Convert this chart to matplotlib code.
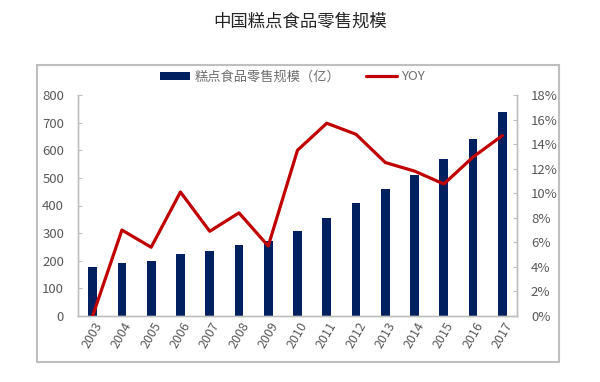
import matplotlib
matplotlib.use("Agg")
import matplotlib.pyplot as plt
from matplotlib.patches import Rectangle
from matplotlib.ticker import FuncFormatter

plt.rcParams['font.family'] = ['Noto Sans CJK SC', 'DejaVu Sans']

years = ["2003", "2004", "2005", "2006", "2007", "2008", "2009", "2010",
         "2011", "2012", "2013", "2014", "2015", "2016", "2017"]
sales = [176, 191, 200, 223, 235, 258, 270, 309, 355, 409, 461, 512, 570, 641, 738]
yoy = [0.0, 7.0, 5.6, 10.1, 6.9, 8.4, 5.7, 13.5, 15.7, 14.8, 12.5, 11.8, 10.75, 12.95, 14.7]

title = "中国糕点食品零售规模"
bar_label = "糕点食品零售规模（亿）"
line_label = "YOY"

grey_text = "#595959"
spine_c = "#BFBFBF"

fig = plt.figure(figsize=(6, 3.82), dpi=100)
fig.patch.set_facecolor("white")

# outer frame
fig.patches.append(Rectangle((37/600, 1-362/382), (559-37)/600, (362-65)/382,
                             transform=fig.transFigure, fill=False,
                             edgecolor="#BFBFBF", linewidth=1.5))

ax = fig.add_axes([78/600, 1-316/382, (517-78)/600, (316-95)/382])
ax2 = ax.twinx()

x = list(range(len(years)))
bars = ax.bar(x, sales, width=0.3, color="#002060", label=bar_label, zorder=2)
line, = ax2.plot(x, yoy, color="#C00000", linewidth=2.3, label=line_label,
                 solid_capstyle="round", zorder=3)

ax.set_xlim(-0.5, len(years) - 0.5)
ax.set_ylim(0, 800)
ax.set_yticks(range(0, 801, 100))
ax2.set_ylim(0, 18)
ax2.set_yticks(range(0, 19, 2))
ax2.yaxis.set_major_formatter(FuncFormatter(lambda v, p: f"{int(v)}%"))

ax.set_xticks(x)
ax.set_xticklabels(years, rotation=60, ha="center", va="top", fontsize=9,
                   color=grey_text, rotation_mode="default")
ax.tick_params(axis="x", length=0, pad=3)
ax.tick_params(axis="y", direction="in", length=3, color=spine_c,
               labelsize=9.5, labelcolor=grey_text, pad=10)
ax2.tick_params(axis="y", direction="in", length=3, color=spine_c,
                labelsize=9.5, labelcolor=grey_text, pad=10)

for a in (ax, ax2):
    a.spines["top"].set_visible(False)
    for s in ("left", "right", "bottom"):
        a.spines[s].set_color(spine_c)
        a.spines[s].set_linewidth(1.0)
ax2.set_zorder(ax.get_zorder() + 1)
ax2.patch.set_visible(False)

fig.text(0.5, 1-22/382, title, ha="center", va="center", fontsize=12.5, color="#262626")

fig.legend([bars, line], [bar_label, line_label], loc="center",
           bbox_to_anchor=(0.487, 1-77/382), ncol=2, frameon=False,
           fontsize=9.5, labelcolor="#6e6e6e", handlelength=2.3,
           handleheight=0.6, columnspacing=2.0, handletextpad=0.3)

fig.savefig("out.png", dpi=100, facecolor="white")
